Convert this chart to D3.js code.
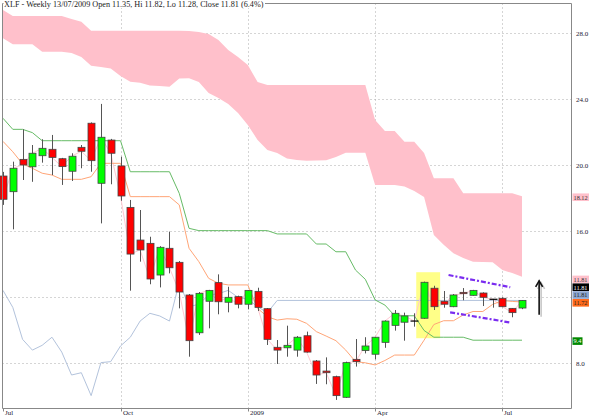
<!DOCTYPE html>
<html><head><meta charset="utf-8">
<script src="https://cdn.jsdelivr.net/npm/d3@7"></script>
<style>body{margin:0;background:#fff}svg{display:block}</style>
</head><body><svg id="c" width="600" height="416"></svg>
<script>
// ---- data (weekly XLF, index 0 = first week Jul 2008, 53 = 13/07/2009) ----
const opens  = [19.35,18.4,20.36,19.91,20.58,20.97,20.40,19.64,21.09,22.55,18.91,21.53,19.96,17.45,15.47,15.27,13.35,14.97,14.12,12.14,9.85,11.76,12.89,11.7,12.04,11.58,12.36,11.31,8.97,8.94,8.8,9.67,8.14,7.53,7.19,5.94,8.24,8.77,8.55,9.27,10.3,10.49,10.56,10.73,12.55,11.76,11.43,12.3,12.12,12.26,11.88,11.94,11.33,11.35];
const highs  = [19.6,20.22,22.18,21.23,21.58,21.84,20.45,20.73,21.23,22.6,23.72,21.6,20.52,17.9,17.29,15.67,15.1,15.98,14.2,12.2,12.32,12.45,13.39,12.64,12.1,12.44,12.58,11.35,9.41,10.28,9.65,9.92,8.2,8.36,7.25,8.1,9.47,9.58,9.6,10.6,11.23,11.07,11.03,12.95,12.7,12.38,12.2,12.56,12.45,12.3,11.9,12.0,11.35,11.82];
const lows   = [17.6,16.12,19.11,19.0,20.16,19.41,18.81,19.05,19.82,19.61,16.48,18.85,17.85,12.4,14.16,12.79,12.6,13.45,11.33,8.4,9.72,10.12,10.97,11.09,11.33,11.27,11.17,9.11,7.96,8.4,8.4,8.65,6.75,6.73,5.78,5.9,7.8,8.6,8.24,8.94,9.98,9.37,10.22,10.7,11.23,11.37,11.4,11.82,12.1,11.47,11.37,11.4,10.79,11.28];
const closes = [17.94,19.82,20.02,20.73,21.03,20.48,19.92,20.55,20.85,20.28,21.70,20.73,18.14,14.62,14.87,13.11,15.03,13.79,12.32,9.37,12.24,12.42,11.73,12.0,11.58,12.42,11.39,9.45,8.8,9.09,9.58,8.68,7.29,7.43,6.04,8.04,8.1,9.05,9.58,10.56,11.03,10.87,10.56,12.91,11.43,11.58,12.14,12.22,12.42,12.0,11.88,11.43,11.07,11.81];
const tenkan = [21.45,20.82,20.08,19.82,19.52,19.41,19.15,19.15,19.15,19.31,20.12,20.12,20.12,18.1,18.1,18.1,18.1,18.1,17.6,14.97,14.16,13.15,12.85,12.75,12.75,12.75,11.33,10.82,10.62,10.7,10.67,10.42,9.92,9.65,9.37,8.8,8.1,8.03,7.9,8.17,8.5,8.5,8.5,9.4,10.35,10.58,10.58,10.93,11.14,11.14,11.57,11.8,11.75,11.72];
const kijun  = [22.85,22.18,22.18,21.98,21.49,21.49,21.49,21.49,21.49,21.49,21.49,21.49,21.49,19.61,19.61,19.61,19.61,19.61,18.3,16.18,16.04,16.04,16.04,16.04,16.04,16.04,16.04,16.04,15.84,15.84,15.84,15.84,15.23,15.23,14.76,14.76,13.65,13.09,11.84,11.53,10.88,10.88,10.88,9.99,9.58,9.58,9.58,9.58,9.4,9.4,9.4,9.4,9.4,9.4];
const chikou = [12.42,11.39,9.45,8.8,9.09,9.58,8.68,7.29,7.43,6.04,8.04,8.1,9.05,9.58,10.56,11.03,10.87,10.56,12.91,11.43,11.58,12.14,12.22,12.42,12.0,11.88,11.43,11.07,11.81];
const cloudTop = [29.41,29.05,29.05,29.05,29.05,29.05,29.05,28.87,28.7,28.16,28.16,28.16,28.16,28.16,28.16,28.16,28.16,28.16,28.16,28.14,28.08,27.96,27.59,26.99,26.56,26.08,25.05,24.87,24.87,24.87,24.87,24.87,24.87,24.87,24.87,24.87,24.87,24.87,22.75,22.08,22.08,21.43,21.43,20.75,19.21,19.21,19.21,18.3,18.3,18.3,18.3,18.3,18.3,18.12];
const cloudBot = [27.7,27.33,27.33,27.33,26.88,26.88,26.88,26.8,26.56,26.04,25.96,25.87,25.41,25.07,25.0,24.84,24.81,24.76,25.26,25.27,25.05,24.38,24.08,23.72,23.17,22.44,21.53,20.93,20.75,20.41,20.32,20.28,20.29,20.3,20.5,20.76,20.76,20.76,18.81,18.81,18.81,18.72,18.44,18.08,15.78,15.18,14.67,14.38,14.16,14.14,14.12,13.65,13.47,13.25];
const yTicks = [8,12,16,20,24,28];
const yLabelTicks = [8,16,20,24,28];   // 12.0 is hidden behind the value tags in the original
const xTickIdx = [0,12,25,38,51];
const xTickLabels = ["Jul","Oct","2009","Apr","Jul"];
const tagValues = [18.12,11.81,11.81,11.81,11.72,9.4];
const tagTexts = ["18.12","11.81","11.81","11.81","11.72","9.4"];
// annotations (index / price)
const boxIdx = [42.2,44.64], boxVal = [9.52,13.52];
const chanUpIdx = [45.5,51.8], chanUpVal = [13.35,12.61];
const chanLoIdx = [45.66,51.7], chanLoVal = [11.09,10.48];
const arrowIdx = 54.75, arrowVal = [10.94,13.0];
const title = "XLF - Weekly 13/07/2009 Open 11.35, Hi 11.82, Lo 11.28, Close 11.81 (6.4%)";

// ---- drawing ----
const svg = d3.select('#c');
const L=2.5, R=571.5, T=3.5, B=408.5;
const x = d3.scaleLinear().domain([0,53]).range([3,522]);
const y = d3.scaleLinear().domain([8,28]).range([363.3,33.3]);
const idx = d3.range(closes.length);
const font = "'Liberation Serif','Times New Roman',serif";

svg.append('rect').attr('width',600).attr('height',416).attr('fill','#fff');

// grid
svg.append('g').selectAll('line').data(yTicks).join('line')
  .attr('x1',L).attr('x2',R).attr('y1',d=>Math.round(y(d))+0.5).attr('y2',d=>Math.round(y(d))+0.5)
  .attr('stroke','#aaa').attr('stroke-dasharray','1,3');
svg.append('g').selectAll('line').data(xTickIdx.slice(1)).join('line')
  .attr('x1',d=>Math.round(x(d))+0.5).attr('x2',d=>Math.round(x(d))+0.5).attr('y1',T).attr('y2',B)
  .attr('stroke','#aaa').attr('stroke-dasharray','1,3');

// cloud
svg.append('path').datum(idx)
  .attr('d', d3.area().x(i=>x(i)).y0(i=>y(cloudBot[i])).y1(i=>y(cloudTop[i])))
  .attr('fill','#ffc0cb');

// highlight box
svg.append('rect').attr('x',x(boxIdx[0])).attr('width',x(boxIdx[1])-x(boxIdx[0]))
  .attr('y',y(boxVal[1])).attr('height',y(boxVal[0])-y(boxVal[1])).attr('fill','#ffff88');

// lines
const line = arr => d3.line().x((d,i)=>x(i)).y(d=>y(d))(arr);
svg.append('path').attr('d',line(chikou)).attr('fill','none').attr('stroke','#b3c3dc').attr('stroke-width',1);
svg.append('line').attr('x1',x(chikou.length-1)).attr('x2',x(closes.length-1)+4).attr('y1',y(closes[53])).attr('y2',y(closes[53]))
  .attr('stroke','#b3c3dc').attr('stroke-width',1);
svg.append('path').attr('d',line(closes)).attr('fill','none').attr('stroke','#ffc8d2').attr('stroke-width',1);
svg.append('path').attr('d',line(tenkan)).attr('fill','none').attr('stroke','#ffa577').attr('stroke-width',1);
svg.append('path').attr('d',line(kijun)).attr('fill','none').attr('stroke','#66bb66').attr('stroke-width',1);

// candles
const cg = svg.append('g');
idx.forEach(i=>{
  const cx = Math.round(x(i))+0.5;
  const o=opens[i], c=closes[i];
  cg.append('line').attr('x1',cx).attr('x2',cx).attr('y1',y(highs[i])).attr('y2',y(lows[i]))
    .attr('stroke','#555').attr('stroke-width',1);
  if (Math.abs(o-c) < 0.03) {
    cg.append('line').attr('x1',cx-4).attr('x2',cx+4).attr('y1',y(c)).attr('y2',y(c))
      .attr('stroke','#000').attr('stroke-width',1.2);
  } else {
    const top=y(Math.max(o,c)), bot=y(Math.min(o,c));
    cg.append('rect').attr('x',cx-3.5).attr('width',7).attr('y',top).attr('height',Math.max(1,bot-top))
      .attr('fill', c>o ? '#00ff00' : '#ff0000').attr('stroke','#444').attr('stroke-width',0.8);
  }
});

// channel lines
[[chanUpIdx,chanUpVal],[chanLoIdx,chanLoVal]].forEach(([ii,vv])=>{
  svg.append('line').attr('x1',x(ii[0])).attr('x2',x(ii[1])).attr('y1',y(vv[0])).attr('y2',y(vv[1]))
    .attr('stroke','#7a2cf0').attr('stroke-width',2.2).attr('stroke-dasharray','5,2,2,2');
});

// arrow with shadow
function arrow(dx,dy,col){
  const ax=x(arrowIdx)+dx, y0=y(arrowVal[0])+dy, y1=y(arrowVal[1])+dy;
  const g=svg.append('g').attr('stroke',col).attr('stroke-width',1.6).attr('fill','none');
  g.append('line').attr('x1',ax).attr('x2',ax).attr('y1',y0).attr('y2',y1);
  g.append('path').attr('d',`M${ax-3.5},${y1+6}L${ax},${y1}L${ax+3.5},${y1+6}`);
}
arrow(2,2,'#c8c8c8');
arrow(0,0,'#111');

// frame
svg.append('path').attr('d',`M${L},${T}H${R}V${B}H${L}Z`).attr('fill','none').attr('stroke','#888').attr('stroke-width',1);

// y labels
svg.append('g').selectAll('text').data(yLabelTicks).join('text')
  .attr('x',576).attr('y',d=>y(d)+2.5).text(d=>d.toFixed(1))
  .attr('font-family',font).attr('font-size',7).attr('fill','#223');

// value tags (stacked so they do not overlap)
const tagFill = ['#ffc0cb','#ffc0cb','#000','#8ba5cf','#ff6a1a','#008800'];
const tagInk  = ['#333','#333','#fff','#222','#222','#fff'];
const tagPos = tagValues.map(v=>y(v)+1);
for (let k=3;k>=1;k--) tagPos[k] = Math.min(tagPos[k], tagPos[k+1]-7.8);
const tg = svg.append('g');
tagValues.forEach((v,k)=>{
  const w = tagTexts[k].length>3 ? 16.5 : 10;
  tg.append('rect').attr('x',572.5).attr('y',tagPos[k]-3.9).attr('width',w).attr('height',7.6).attr('fill',tagFill[k]);
  tg.append('text').attr('x',573.5).attr('y',tagPos[k]+2.2).text(tagTexts[k])
    .attr('font-family',font).attr('font-size',6.3).attr('fill',tagInk[k]);
});

// x axis ticks & labels
svg.append('g').selectAll('line').data(xTickIdx).join('line')
  .attr('x1',d=>Math.round(x(d))+0.5).attr('x2',d=>Math.round(x(d))+0.5).attr('y1',B).attr('y2',B+3)
  .attr('stroke','#888');
svg.append('g').selectAll('text').data(xTickIdx).join('text')
  .attr('x',d=>Math.round(x(d))+2).attr('y',415).text((d,k)=>xTickLabels[k])
  .attr('font-family',font).attr('font-size',7).attr('fill','#223');

// title
const tgr = svg.append('g');
const bg = tgr.append('rect').attr('x',3.5).attr('y',0).attr('height',8).attr('fill','#fff');
const tt = tgr.append('text').attr('x',4).attr('y',7).text(title)
  .attr('font-family',font).attr('font-size',8.2).attr('fill','#222');
bg.attr('width', tt.node().getComputedTextLength()+2);
</script></body></html>
